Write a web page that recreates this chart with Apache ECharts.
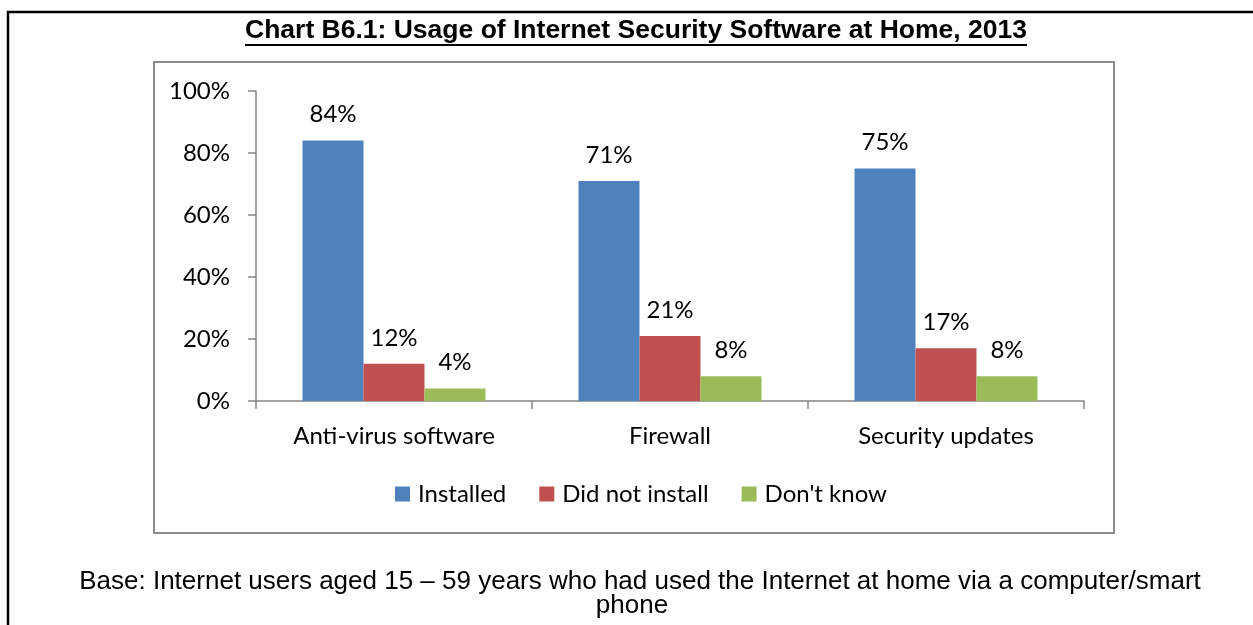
<!DOCTYPE html>
<html>
<head>
<meta charset="utf-8">
<script src="https://cdn.jsdelivr.net/npm/echarts@6/dist/echarts.min.js"></script>
<style>
  html, body { margin: 0; padding: 0; background: #fff; }
  #chart { width: 1253px; height: 625px; }
</style>
</head>
<body>
<div id="chart"></div>
<script>
// Survey results: share of home Internet users by security software status
const categories = ['Anti-virus software', 'Firewall', 'Security updates'];
const installed = [84, 71, 75];
const didNotInstall = [12, 21, 17];
const dontKnow = [4, 8, 8];
const seriesNames = ['Installed', 'Did not install', "Don't know"];

const titleText = 'Chart B6.1: Usage of Internet Security Software at Home, 2013';
const footLine1 = 'Base: Internet users aged 15 \u2013 59 years who had used the Internet at home via a computer/smart';
const footLine2 = 'phone';

const bodyFont = 'Lato, "Open Sans", sans-serif';
const bodySize = 24;
const axisGrey = '#868686';
const titleFont = 'bold 26.5px "Liberation Sans"';
const footFont = '26px "Liberation Sans"';

// measure title width to place the underline
const ctx = document.createElement('canvas').getContext('2d');
ctx.font = titleFont;
const titleW = ctx.measureText(titleText).width;
const titleCx = 636;

const chart = echarts.init(document.getElementById('chart'), null, { renderer: 'canvas' });

const labelStyle = {
  show: true,
  position: 'top',
  distance: 14,
  formatter: '{c}%',
  color: '#000',
  fontFamily: bodyFont,
  fontSize: bodySize
};

function bar(name, data, color) {
  return {
    name: name,
    type: 'bar',
    data: data,
    barGap: '0%',
    barCategoryGap: '33.7%',
    itemStyle: { color: color },
    label: labelStyle
  };
}

chart.setOption({
  animation: false,
  backgroundColor: '#fff',
  grid: { left: 256, right: 169, top: 91, bottom: 224, containLabel: false },
  legend: {
    data: seriesNames,
    top: 477,
    left: 390,
    itemWidth: 15,
    itemHeight: 15,
    itemGap: 33,
    icon: 'rect',
    textStyle: { fontFamily: bodyFont, fontSize: bodySize, color: '#000', padding: [0, 0, 0, 3] }
  },
  xAxis: {
    type: 'category',
    data: categories,
    axisLine: { lineStyle: { color: axisGrey, width: 1.5 } },
    axisTick: { show: true, length: 8, lineStyle: { color: axisGrey, width: 1.5 } },
    axisLabel: { color: '#000', fontFamily: bodyFont, fontSize: bodySize, margin: 23 }
  },
  yAxis: {
    type: 'value',
    min: 0,
    max: 100,
    interval: 20,
    axisLine: { show: true, lineStyle: { color: axisGrey, width: 1.5 } },
    axisTick: { show: true, length: 8, lineStyle: { color: axisGrey, width: 1.5 } },
    splitLine: { show: false },
    axisLabel: { formatter: '{value}%', color: '#000', fontFamily: bodyFont, fontSize: bodySize, margin: 26 }
  },
  series: [
    bar(seriesNames[0], installed, '#4F81BD'),
    bar(seriesNames[1], didNotInstall, '#C0504D'),
    bar(seriesNames[2], dontKnow, '#9BBB59')
  ],
  graphic: [
    { type: 'rect', shape: { x: 8, y: 12, width: 1400, height: 800 },
      style: { fill: null, stroke: '#000', lineWidth: 2.5 }, silent: true },
    { type: 'rect', shape: { x: 154, y: 62, width: 960, height: 471 },
      style: { fill: null, stroke: '#8c8c8c', lineWidth: 2 }, silent: true },
    { type: 'text', x: titleCx, y: 31,
      style: { text: titleText, font: titleFont, fill: '#000',
               align: 'center', verticalAlign: 'middle' } },
    { type: 'line', shape: { x1: titleCx - titleW / 2, y1: 45, x2: titleCx + titleW / 2, y2: 45 },
      style: { stroke: '#000', lineWidth: 2 } },
    { type: 'text', x: 640, y: 582,
      style: { text: footLine1, font: footFont, fill: '#000',
               align: 'center', verticalAlign: 'middle' } },
    { type: 'text', x: 632, y: 606,
      style: { text: footLine2, font: footFont, fill: '#000',
               align: 'center', verticalAlign: 'middle' } }
  ]
});
</script>
</body>
</html>
